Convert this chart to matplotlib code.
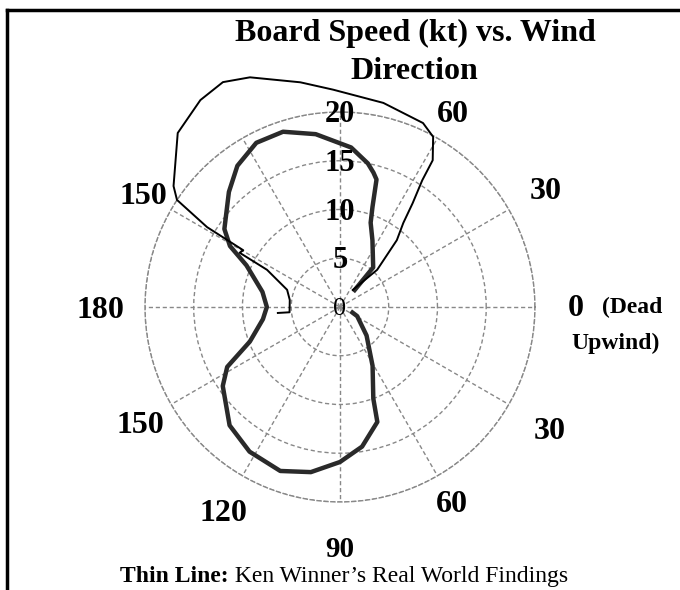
import numpy as np
import matplotlib
matplotlib.use("Agg")
import matplotlib.pyplot as plt
from matplotlib.lines import Line2D

plt.rcParams["font.family"] = ["Liberation Serif", "DejaVu Serif"]

# ----- data -----
# thick line: polar angle (deg, 0 = dead upwind, counter-clockwise) and speed (kt)
thick_theta = [49, 50, 64, 70, 72, 74, 76, 79, 86, 98, 108, 117, 126, 134,
               146, 151, 156, 169, 180, 189, 201, 208, 214, 227, 238, 250,
               260, 270, 279, 288, 290, 299, 313, 332, 336]
thick_speed = [2.3, 5.3, 7.6, 9.2, 10.8, 13.6, 14.2, 15.0, 16.4, 17.9, 18.9,
               18.9, 17.9, 16.4, 14.3, 12.9, 10.5, 8.1, 7.5, 8.0, 9.9, 13.1,
               14.5, 16.6, 17.5, 17.9, 17.2, 15.9, 14.5, 12.4, 10.0, 6.9,
               4.0, 2.0, 1.4]

# thin line: Ken Winner's real world findings
thin_theta = [53, 45, 49.6, 53, 55, 57, 57.7, 61.3, 65.7, 78, 91.8, 100,
              111.4, 117.5, 124, 133, 144, 146.7, 149, 149.6, 151.6, 153,
              162, 172, 186, 185.5]
thin_speed = [2.2, 5.4, 9.0, 10.8, 13.0, 15.5, 17.8, 19.9, 20.7, 21.4, 22.3,
              23.4, 25.3, 26.0, 25.6, 24.4, 21.1, 20.0, 15.9, 11.5, 11.7,
              8.4, 5.7, 5.2, 5.2, 6.4]

speed_ticks = [5, 10, 15, 20]
angle_ticks = [30, 60, 150, 180, 210, 240, 270, 300, 330]

# ----- figure -----
fig = plt.figure(figsize=(6.8, 5.9), dpi=100)
ax = fig.add_axes([0.2132, 0.1492, 0.5735, 0.661], projection="polar")

ax.plot(np.radians(thick_theta), thick_speed, color="#2a2a2a", lw=3.2,
        clip_on=False, zorder=4)
ax.plot(np.radians(thin_theta), thin_speed, color="black", lw=1.4,
        clip_on=False, zorder=5)

ax.set_ylim(0, 20)
ax.set_rgrids(speed_ticks, labels=[""] * len(speed_ticks))
ax.set_thetagrids(range(0, 360, 30), labels=[""] * 12)
ax.grid(True, color="#888888", linestyle=(0, (3, 2)), linewidth=1.0)
ax.spines["polar"].set_color("#888888")
ax.spines["polar"].set_linestyle((0, (3, 2)))
ax.spines["polar"].set_linewidth(1.0)
ax.tick_params(length=0)

# speed labels along the vertical spoke
for s in speed_ticks:
    ax.text(np.radians(90), s + 0.1, str(s), ha="center",
            va="center_baseline", fontsize=22, fontweight="bold", zorder=6)
ax.text(0, 0, "0", ha="center", va="center_baseline", fontsize=19, zorder=6)

# wind angle labels
label_r = {30: 24.4, 60: 23.2, 150: 23.3, 180: 24.6, 210: 23.6, 240: 24.0,
           270: 24.6, 300: 23.0, 330: 24.8}
for a in angle_ticks:
    txt = str(min(a, 360 - a))
    ax.text(np.radians(a), label_r[a], txt, ha="center",
            va="center_baseline", fontsize=21 if a == 270 else 23,
            fontweight="bold", clip_on=False)

# dead upwind label
fig.text(576 / 680, 1 - 305 / 590, "0", ha="center", va="center_baseline",
         fontsize=23, fontweight="bold")
fig.text(632 / 680, 1 - 305 / 590, "(Dead", ha="center",
         va="center_baseline", fontsize=17, fontweight="bold")
fig.text(616 / 680, 1 - 341 / 590, "Upwind)", ha="center",
         va="center_baseline", fontsize=17, fontweight="bold")

# title
fig.text(415 / 680, 1 - 30 / 590, "Board Speed (kt) vs. Wind", ha="center",
         va="center_baseline", fontsize=23, fontweight="bold")
fig.text(414 / 680, 1 - 68 / 590, "Direction", ha="center",
         va="center_baseline", fontsize=23, fontweight="bold")

# caption: bold lead-in followed by regular text
lead = fig.text(120 / 680, 1 - 574 / 590, "Thin Line:", ha="left",
                va="center_baseline", fontsize=17, fontweight="bold")
ax.annotate(" Ken Winner’s Real World Findings", xy=(1, 0), xycoords=lead,
            ha="left", va="bottom", fontsize=17, annotation_clip=False)

# frame lines (top and left)
fig.add_artist(Line2D([7 / 680, 1], [1 - 10 / 590, 1 - 10 / 590],
                      color="black", lw=2.5, transform=fig.transFigure))
fig.add_artist(Line2D([7 / 680, 7 / 680], [1 - 10 / 590, 0],
                      color="black", lw=2.5, transform=fig.transFigure))

fig.savefig("out.png", dpi=100)
